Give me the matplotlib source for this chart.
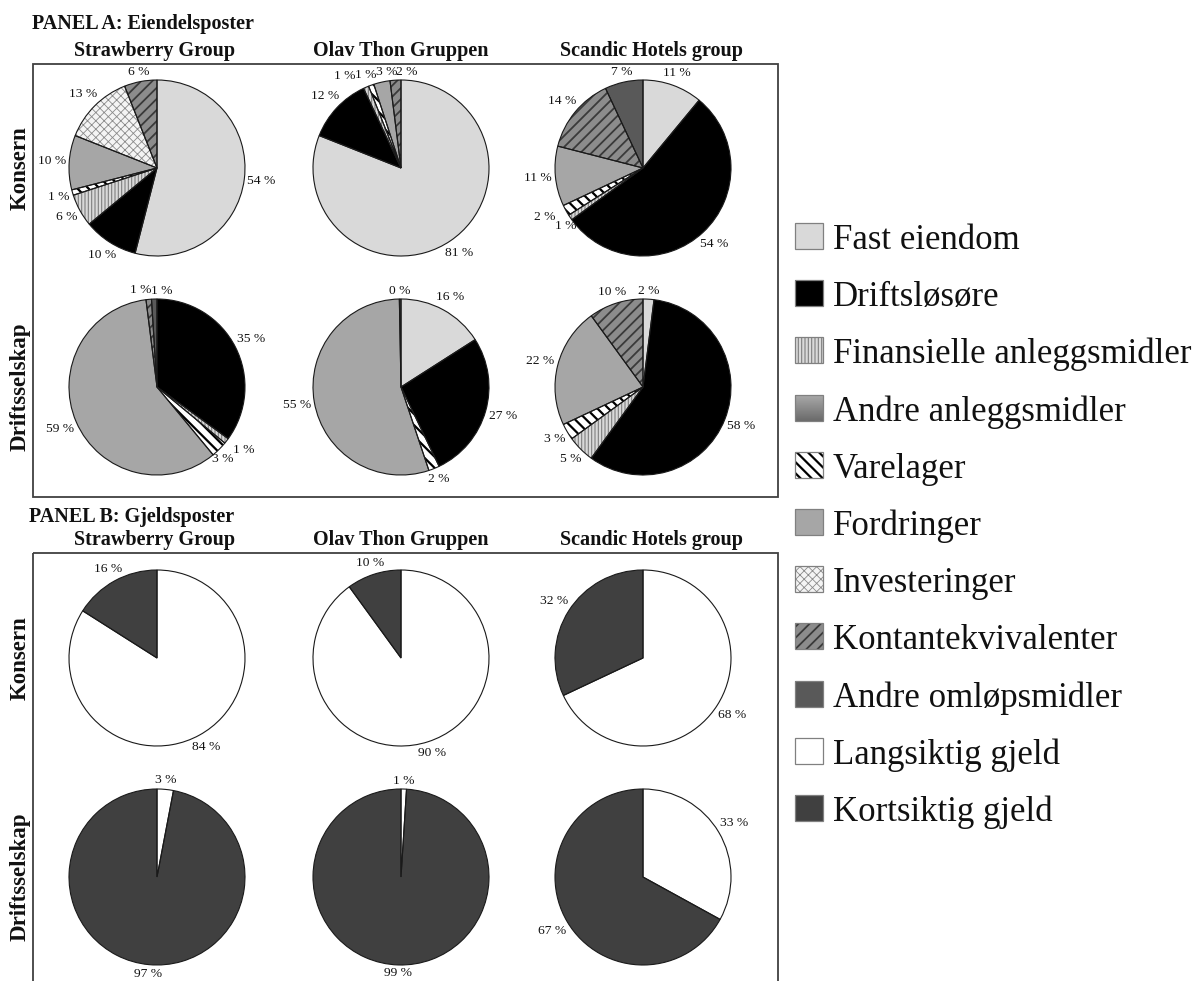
import matplotlib
matplotlib.use("Agg")
import matplotlib.pyplot as plt
import numpy as np
from matplotlib.patches import Rectangle, Wedge

plt.rcParams['font.family'] = ['Liberation Serif', 'DejaVu Serif']
plt.rcParams['hatch.linewidth'] = 0.8

W, H = 1198, 981
R = 88  # pie radius in pixels

# ----------------- data -----------------
asset_cats = ["Fast eiendom", "Driftsløsøre", "Finansielle anleggsmidler",
              "Andre anleggsmidler", "Varelager", "Fordringer", "Investeringer",
              "Kontantekvivalenter", "Andre omløpsmidler"]
debt_cats = ["Langsiktig gjeld", "Kortsiktig gjeld"]
companies = ["Strawberry Group", "Olav Thon Gruppen", "Scandic Hotels group"]
levels = ["Konsern", "Driftsselskap"]

# Panel A: share of total assets (%), order as asset_cats
strawberry_konsern_assets = [54, 10, 6, 0, 1, 10, 13, 6, 0]
olav_konsern_assets = [81, 12, 1, 0, 1, 3, 0, 2, 0]
scandic_konsern_assets = [11, 54, 1, 0, 2, 11, 0, 14, 7]
strawberry_drift_assets = [0, 35, 1, 0, 3, 59, 0, 1, 1]
olav_drift_assets = [16, 27, 0, 0, 2, 55, 0, 0, 0.3]
scandic_drift_assets = [2, 58, 5, 0, 3, 22, 0, 10, 0]

# Panel B: share of total debt (%), order as debt_cats
strawberry_konsern_debt = [84, 16]
olav_konsern_debt = [90, 10]
scandic_konsern_debt = [68, 32]
strawberry_drift_debt = [3, 97]
olav_drift_debt = [1, 99]
scandic_drift_debt = [33, 67]

# ----------------- styles -----------------
asset_face = ["#d9d9d9", "#000000", "#d9d9d9", "#8c8c8c", "#ffffff",
              "#a6a6a6", "#f4f4f4", "#8c8c8c", "#595959"]
asset_hatch = [None, None, "|||||", None, "\\\\\\", None, "xxxx", "///", None]
asset_hcol = [None, None, "#7f7f7f", None, "#000000", None, "#8a8a8a", "#3a3a3a", None]
asset_hlw = [None, None, 0.8, None, 1.6, None, 0.6, 1.3, None]
debt_face = ["#ffffff", "#404040"]
debt_hatch = [None, None]
debt_hcol = [None, None]
debt_hlw = [None, None]

fig = plt.figure(figsize=(W / 100, H / 100), dpi=100)
ax0 = fig.add_axes([0, 0, 1, 1])
ax0.axis("off")


def set_hatch(p, hatch, col, lw):
    p.set_hatch(hatch)
    p.set_edgecolor(col)
    p.set_linewidth(0)
    if hasattr(p, "set_hatch_linewidth"):
        p.set_hatch_linewidth(lw)
    else:
        p._hatch_linewidth = lw


def spread(pos, widths, h=11):
    # push overlapping labels apart horizontally
    n = len(pos)
    for _ in range(40):
        moved = False
        for i in range(n):
            for j in range(i + 1, n):
                dx = pos[j][0] - pos[i][0]
                dy = pos[j][1] - pos[i][1]
                need = (widths[i] + widths[j]) / 2
                if abs(dy) < h and abs(dx) < need - 0.1:
                    push = (need - abs(dx)) / 2
                    s = 1 if dx >= 0 else -1
                    pos[i][0] -= s * push
                    pos[j][0] += s * push
                    moved = True
        if not moved:
            break
    return pos


def draw_pie(cx, cy, values, faces, hatches, hcols, hlws):
    side = 3.4 * R
    ax = fig.add_axes([(cx - side / 2) / W, 1 - (cy + side / 2) / H, side / W, side / H])
    idx = [i for i, v in enumerate(values) if v > 0]
    vals = [values[i] for i in idx]
    wedges, _ = ax.pie(vals, startangle=90, counterclock=False, radius=1,
                       colors=[faces[i] for i in idx],
                       wedgeprops=dict(linewidth=0))
    lim = side / 2 / R
    ax.set_xlim(-lim, lim)
    ax.set_ylim(-lim, lim)
    ax.axis("off")

    pos, widths, labels = [], [], []
    for w, i in zip(wedges, idx):
        if hatches[i]:
            set_hatch(w, hatches[i], hcols[i], hlws[i])
        ax.add_patch(Wedge((0, 0), 1, w.theta1, w.theta2, fill=False,
                           ec="#1a1a1a", lw=0.8))
        lab = f"{values[i]:.0f} %"
        tw = 7 * len(lab)
        th = np.deg2rad((w.theta1 + w.theta2) / 2)
        d = R + 3 + abs(np.cos(th)) * tw / 2 + abs(np.sin(th)) * 5
        pos.append([cx + d * np.cos(th), cy - d * np.sin(th)])
        widths.append(tw)
        labels.append(lab)
    spread(pos, widths)
    for (px, py), lab in zip(pos, labels):
        ax.text((px - cx) / R, (cy - py) / R, lab, ha="center", va="center",
                fontsize=9.7, color="#111111")


# ----------------- frames & titles -----------------
ax0.add_patch(Rectangle((33, 64), 745, 433, fill=False, ec="#404040", lw=1.3))
ax0.add_patch(Rectangle((33, 553), 745, 445, fill=False, ec="#404040", lw=1.3))

col_x = [157, 401, 643]
head_x = [155, 401, 652]
title_kw = dict(fontsize=14.5, fontweight="bold", color="#111111")
ax0.text(32, 29, "PANEL A: Eiendelsposter", ha="left", va="baseline", **title_kw)
ax0.text(29, 522, "PANEL B: Gjeldsposter", ha="left", va="baseline", **title_kw)
for hx, name in zip(head_x, companies):
    ax0.text(hx, 56, name, ha="center", va="baseline", **title_kw)
    ax0.text(hx, 545, name, ha="center", va="baseline", **title_kw)

row_y = [168, 387, 658, 877]
for ry, name in zip(row_y, levels + levels):
    ax0.text(20, ry, name, ha="center", va="center", rotation=90,
             fontsize=16.5, fontweight="bold", color="#111111")

# ----------------- pies -----------------
panel_a = [[strawberry_konsern_assets, olav_konsern_assets, scandic_konsern_assets],
           [strawberry_drift_assets, olav_drift_assets, scandic_drift_assets]]
panel_b = [[strawberry_konsern_debt, olav_konsern_debt, scandic_konsern_debt],
           [strawberry_drift_debt, olav_drift_debt, scandic_drift_debt]]

for r, row in enumerate(panel_a):
    for c, vals in enumerate(row):
        draw_pie(col_x[c], row_y[r], vals, asset_face, asset_hatch, asset_hcol, asset_hlw)
for r, row in enumerate(panel_b):
    for c, vals in enumerate(row):
        draw_pie(col_x[c], row_y[r + 2], vals, debt_face, debt_hatch, debt_hcol, debt_hlw)

# ----------------- legend -----------------
leg_names = asset_cats + debt_cats
leg_face = asset_face + debt_face
leg_hatch = asset_hatch + debt_hatch
leg_hcol = asset_hcol + debt_hcol
leg_hlw = asset_hlw + debt_hlw
base0, step = 249, 57.2
for k, name in enumerate(leg_names):
    b = base0 + k * step
    if name == "Andre anleggsmidler":
        ax0.imshow(np.linspace(0.66, 0.42, 30)[:, None], cmap="gray", vmin=0, vmax=1,
                   extent=(795, 823, b, b - 26), aspect="auto", interpolation="bilinear")
    else:
        p = Rectangle((795, b - 26), 28, 26, facecolor=leg_face[k], lw=0)
        ax0.add_patch(p)
        if leg_hatch[k]:
            set_hatch(p, leg_hatch[k], leg_hcol[k], leg_hlw[k])
    ax0.add_patch(Rectangle((795, b - 26), 28, 26, fill=False, ec="#808080", lw=0.9))
    ax0.text(833, b, name, ha="left", va="baseline", fontsize=25, color="#111111")

ax0.set_xlim(0, W)
ax0.set_ylim(H, 0)

fig.savefig("out.png", dpi=100)
